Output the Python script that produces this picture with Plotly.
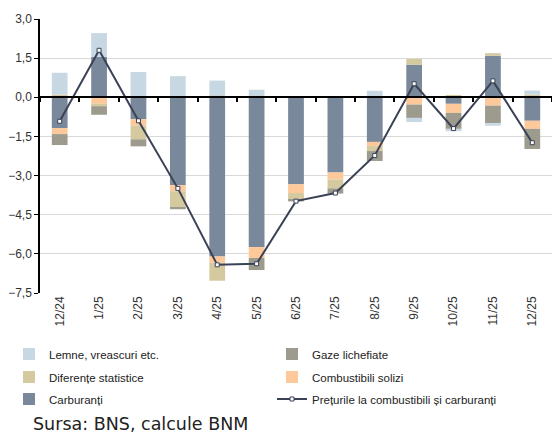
import plotly.graph_objects as go

categories = ["12/24", "1/25", "2/25", "3/25", "4/25", "5/25", "6/25", "7/25",
              "8/25", "9/25", "10/25", "11/25", "12/25"]

carburanti = [-1.18, 1.55, -0.84, -3.37, -6.10, -5.74, -3.33, -2.88, -1.71, 1.25, -0.25, 1.59, -0.90]
combustibili_solizi = [-0.23, -0.25, -0.24, -0.23, -0.24, -0.42, -0.34, -0.27, -0.16, -0.28, -0.35, -0.32, -0.31]
diferente = [0.10, -0.09, -0.53, -0.60, -0.69, 0.05, -0.26, -0.34, -0.19, 0.22, 0.09, 0.10, 0.10]
gaze = [-0.42, -0.33, -0.27, -0.09, 0.07, -0.46, -0.06, -0.20, -0.38, -0.51, -0.61, -0.67, -0.77]
lemne = [0.84, 0.91, 0.97, 0.81, 0.57, 0.24, 0.00, 0.00, 0.25, -0.16, -0.09, -0.10, 0.16]
preturi = [-0.92, 1.80, -0.90, -3.49, -6.42, -6.38, -3.98, -3.67, -2.23, 0.52, -1.20, 0.63, -1.74]

y_min, y_max, y_step = -7.5, 3.0, 1.5
y_ticks = [y_min + i * y_step for i in range(int(round((y_max - y_min) / y_step)) + 1)]

W, H = 552, 433
M_L, M_R, M_T, M_B = 40, 0, 19, 140
plot_w = W - M_L - M_R
plot_h = H - M_T - M_B
plot_bottom = H - M_B

fig = go.Figure()

# (name, values, color, legend row, rank within row)
bar_series = [
    ("Carburanți", carburanti, "#7a889b", "legend3", 1),
    ("Combustibili solizi", combustibili_solizi, "#fdc99a", "legend2", 2),
    ("Diferențe statistice", diferente, "#d5c9a0", "legend2", 1),
    ("Gaze lichefiate", gaze, "#9d9b8d", "legend", 2),
    ("Lemne, vreascuri etc.", lemne, "#c8d8e3", "legend", 1),
]
for name, vals, color, leg, rank in bar_series:
    fig.add_trace(go.Bar(
        x=categories, y=vals, name=name, legend=leg, legendrank=rank,
        marker=dict(color=color, line=dict(width=0)),
    ))

fig.add_trace(go.Scatter(
    x=categories, y=preturi, name="Prețurile la combustibili și carburanți",
    legend="legend3", legendrank=2, xaxis="x2", mode="lines+markers",
    line=dict(color="#3b4256", width=2),
    marker=dict(symbol="square", size=4, color="white",
                line=dict(color="#3b4256", width=1)),
))

zero_pos = (0 - y_min) / (y_max - y_min)

legend_font = dict(family="Liberation Sans, Arial, sans-serif", size=11.5, color="#222222")


def legend_row(center_px):
    return dict(
        orientation="h", xref="paper", x=(9 - M_L) / plot_w, xanchor="left",
        yref="paper", y=-(center_px - plot_bottom) / plot_h, yanchor="middle",
        traceorder="normal", itemwidth=30,
        entrywidth=218, entrywidthmode="pixels",
        font=legend_font, bgcolor="rgba(0,0,0,0)",
    )


fig.update_layout(
    width=W, height=H,
    margin=dict(l=M_L, r=M_R, t=M_T, b=M_B, autoexpand=False),
    paper_bgcolor="white", plot_bgcolor="white",
    barmode="relative", bargap=0.6,
    separators=", ",
    font=dict(family="Liberation Sans, Arial, sans-serif", size=12, color="#333333"),
    xaxis=dict(
        type="category", tickangle=-90, showgrid=False, showline=False,
        ticks="", tickfont=dict(size=12, color="#333333"),
        range=[-0.5, len(categories) - 0.5],
    ),
    xaxis2=dict(
        type="category", overlaying="x", anchor="free", position=zero_pos,
        side="bottom", showline=True, linecolor="#000000", linewidth=1.5,
        ticks="outside", tickson="boundaries", ticklen=4, tickwidth=2,
        tickcolor="#000000", showticklabels=False, showgrid=False,
        range=[-0.5, len(categories) - 0.5], layer="above traces",
    ),
    yaxis=dict(
        range=[y_min, y_max], tickvals=y_ticks, tickformat=".1f",
        showgrid=True, gridcolor="#d9d9d9", gridwidth=1,
        zeroline=False, showline=True, linecolor="#000000", linewidth=1.5,
        ticks="outside", ticklen=4, tickcolor="#000000",
        tickfont=dict(size=12, color="#333333"),
    ),
    legend=legend_row(354),
    legend2=legend_row(377),
    legend3=legend_row(399),
    annotations=[dict(
        text="Sursa: BNS, calcule BNM", xref="paper", yref="paper",
        x=-9 / plot_w, y=-(412 - plot_bottom) / plot_h,
        xanchor="left", yanchor="top",
        showarrow=False, font=dict(family="DejaVu Sans", size=17.5, color="#222222"),
    )],
)

fig.write_html("out.html", config={"displayModeBar": False},
               post_script="document.body.style.margin='0px';")
